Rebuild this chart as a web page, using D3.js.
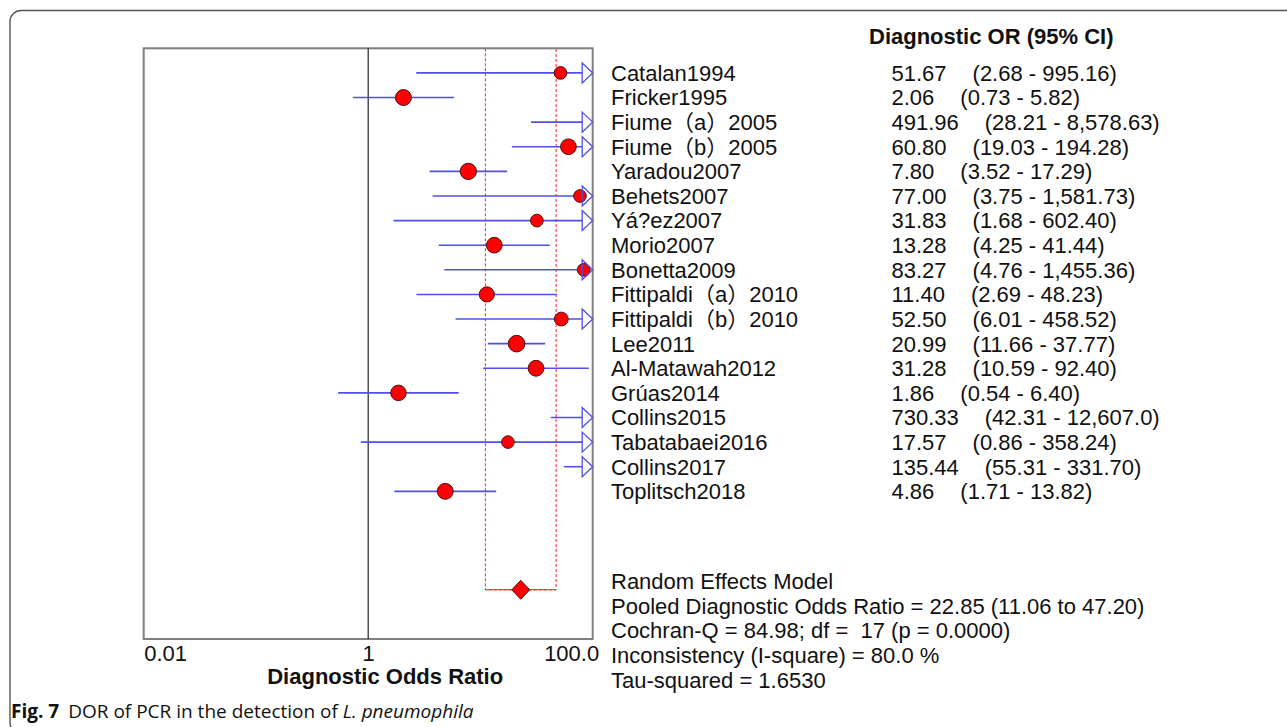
<!DOCTYPE html>
<html>
<head>
<meta charset="utf-8">
<script src="https://cdn.jsdelivr.net/npm/d3@7"></script>
<style>
  html, body { margin: 0; padding: 0; background: #fff; }
  svg { display: block; }
  text { font-family: "Liberation Sans", Arial, "Noto Sans CJK SC", sans-serif; fill: #111; }
</style>
</head>
<body>
<svg id="chart" width="1287" height="727"></svg>
<script>
// Study-level diagnostic odds ratios with 95% confidence limits
const studies = ["Catalan1994", "Fricker1995", "Fiume（a）2005", "Fiume（b）2005", "Yaradou2007",
  "Behets2007", "Yá?ez2007", "Morio2007", "Bonetta2009", "Fittipaldi（a）2010", "Fittipaldi（b）2010",
  "Lee2011", "Al-Matawah2012", "Grúas2014", "Collins2015", "Tabatabaei2016", "Collins2017", "Toplitsch2018"];
const dor   = [51.67, 2.06, 491.96, 60.80, 7.80, 77.00, 31.83, 13.28, 83.27, 11.40, 52.50, 20.99, 31.28, 1.86, 730.33, 17.57, 135.44, 4.86];
const ciLow = [2.68, 0.73, 28.21, 19.03, 3.52, 3.75, 1.68, 4.25, 4.76, 2.69, 6.01, 11.66, 10.59, 0.54, 42.31, 0.86, 55.31, 1.71];
const ciHigh = [995.16, 5.82, 8578.63, 194.28, 17.29, 1581.73, 602.40, 41.44, 1455.36, 48.23, 458.52, 37.77, 92.40, 6.40, 12607.0, 358.24, 331.70, 13.82];

// Pooled random-effects estimate and heterogeneity statistics
const pooled = { dor: 22.85, low: 11.06, high: 47.20 };
const cochranQ = 84.98, df = 17, pValue = 0.0000, iSquare = 80.0, tauSquared = 1.6530;

// Axis
const tickValues = [0.01, 1, 100];
const tickLabels = ["0.01", "1", "100.0"];

const svg = d3.select("#chart");

// Figure frame with rounded corner
svg.append("rect")
  .attr("x", 10).attr("y", 10.5).attr("width", 1400).attr("height", 723).attr("rx", 11)
  .attr("fill", "none").attr("stroke", "#555").attr("stroke-width", 1.4);

const plot = { left: 143.7, right: 592.7, top: 48.3, bottom: 639 };
const x = d3.scaleLog().domain([0.01, 100]).range([plot.left, plot.right]);
const y = d3.scaleLinear().domain([-1, 23]).range([plot.top, plot.bottom]);

const rows = studies.map((name, i) => ({ name, i, dor: dor[i], lo: ciLow[i], hi: ciHigh[i] }));

// random-effects weights for marker size
rows.forEach(r => {
  const se = (Math.log(r.hi) - Math.log(r.lo)) / (2 * 1.96);
  r.w = 1 / (se * se + tauSquared);
});
const rScale = d3.scaleLinear().domain(d3.extent(rows, r => r.w)).range([6.3, 8.3]);

const xMax = x.domain()[1];
const blue = "#5050e6";

// plot frame
svg.append("rect")
  .attr("x", plot.left).attr("y", plot.top)
  .attr("width", plot.right - plot.left).attr("height", plot.bottom - plot.top)
  .attr("fill", "none").attr("stroke", "#808080").attr("stroke-width", 2);

// reference line at DOR = 1
svg.append("line")
  .attr("x1", x(1)).attr("x2", x(1)).attr("y1", plot.top).attr("y2", plot.bottom)
  .attr("stroke", "#222").attr("stroke-width", 1.2);

// pooled CI band
const yPool = y(21);
svg.append("path")
  .attr("d", `M${x(pooled.low)},${plot.top}V${yPool}H${x(pooled.high)}V${plot.top}`)
  .attr("fill", "none").attr("stroke", "#ff2020").attr("stroke-width", 1)
  .attr("stroke-dasharray", "3,2");
svg.append("line")
  .attr("x1", x(pooled.low)).attr("x2", x(pooled.high)).attr("y1", yPool).attr("y2", yPool)
  .attr("stroke", "#ff2020").attr("stroke-width", 1);

// CI lines (clipped at the right edge with an open arrow)
const arrowLen = 10.5, arrowHalf = 10;
svg.append("g").selectAll("line").data(rows).join("line")
  .attr("x1", d => x(Math.max(d.lo, 0.01)))
  .attr("x2", d => d.hi > xMax ? x(xMax) - arrowLen : x(d.hi))
  .attr("y1", d => y(d.i)).attr("y2", d => y(d.i))
  .attr("stroke", blue).attr("stroke-width", 1.6);

// point estimates inside the axis range
svg.append("g").selectAll("circle").data(rows.filter(d => d.dor <= xMax)).join("circle")
  .attr("cx", d => x(d.dor)).attr("cy", d => y(d.i)).attr("r", d => rScale(d.w))
  .attr("fill", "#ff0000").attr("stroke", "#4a1010").attr("stroke-width", 1);

// open arrows for truncated intervals
svg.append("g").selectAll("path").data(rows.filter(d => d.hi > xMax)).join("path")
  .attr("d", d => {
    const xe = x(xMax), yc = y(d.i);
    return `M${xe - arrowLen},${yc - arrowHalf}L${xe},${yc}L${xe - arrowLen},${yc + arrowHalf}Z`;
  })
  .attr("fill", "none").attr("stroke", blue).attr("stroke-width", 1.3);

// pooled diamond
const dx = 9, dy = 9.5, px = x(pooled.dor);
svg.append("path")
  .attr("d", `M${px - dx},${yPool}L${px},${yPool - dy}L${px + dx},${yPool}L${px},${yPool + dy}Z`)
  .attr("fill", "#ff0000").attr("stroke", "#4a1010").attr("stroke-width", 1);

const fs = 22;
const base = 7.9;

// x axis
const axis = d3.axisBottom(x).tickValues(tickValues).tickSize(0).tickPadding(6.2)
  .tickFormat((d, i) => tickLabels[i]);
const gAxis = svg.append("g").attr("transform", `translate(0,${plot.bottom})`).call(axis);
gAxis.select(".domain").remove();
gAxis.selectAll("text")
  .attr("font-size", fs).attr("font-family", "Liberation Sans, Arial, sans-serif").attr("fill", "#111")
  .attr("text-anchor", (d, i) => i === 0 ? "start" : (i === tickValues.length - 1 ? "end" : "middle"))
  .attr("dx", (d, i) => i === tickValues.length - 1 ? 6 : 0);

svg.append("text")
  .attr("x", x(1) + 17).attr("y", 684).attr("text-anchor", "middle")
  .attr("font-size", fs).attr("font-weight", "bold")
  .text("Diagnostic Odds Ratio");

// right-hand table
const fmtCI = v => v >= 10000 ? d3.format(",.1f")(v) : d3.format(",.2f")(v);
const fmtOR = d3.format(".2f");

svg.append("text")
  .attr("x", 869).attr("y", 44).attr("font-size", fs).attr("font-weight", "bold")
  .text("Diagnostic OR (95% CI)");

const gRows = svg.append("g");
gRows.selectAll("text.name").data(rows).join("text").attr("class", "name")
  .attr("x", 611).attr("y", d => y(d.i) + base).attr("font-size", fs)
  .text(d => d.name);

const vals = gRows.selectAll("text.val").data(rows).join("text").attr("class", "val")
  .attr("x", 891.5).attr("y", d => y(d.i) + base).attr("font-size", fs);
vals.append("tspan").text(d => fmtOR(d.dor));
vals.append("tspan").attr("dx", 26).text(d => `(${fmtCI(d.lo)} - ${fmtCI(d.hi)})`);

// summary statistics
const stats = [
  "Random Effects Model",
  `Pooled Diagnostic Odds Ratio = ${fmtOR(pooled.dor)} (${fmtOR(pooled.low)} to ${fmtOR(pooled.high)})`,
  `Cochran-Q = ${fmtOR(cochranQ)}; df =  ${df} (p = ${d3.format(".4f")(pValue)})`,
  `Inconsistency (I-square) = ${d3.format(".1f")(iSquare)} %`,
  `Tau-squared = ${d3.format(".4f")(tauSquared)}`
];
svg.append("g").selectAll("text").data(stats).join("text")
  .attr("x", 611).attr("y", (d, i) => y(20.65 + i) + base).attr("font-size", fs)
  .attr("xml:space", "preserve").style("white-space", "pre")
  .text(d => d);

// caption
const cap = svg.append("text").attr("x", 11).attr("y", 718)
  .style("font-family", "'Open Sans', 'Noto Sans', sans-serif").attr("font-size", 19).attr("fill", "#222");
cap.append("tspan").attr("font-weight", "bold").text("Fig. 7");
cap.append("tspan").attr("dx", 9).text("DOR of PCR in the detection of ");
cap.append("tspan").attr("font-style", "italic").text("L. pneumophila");
</script>
</body>
</html>
